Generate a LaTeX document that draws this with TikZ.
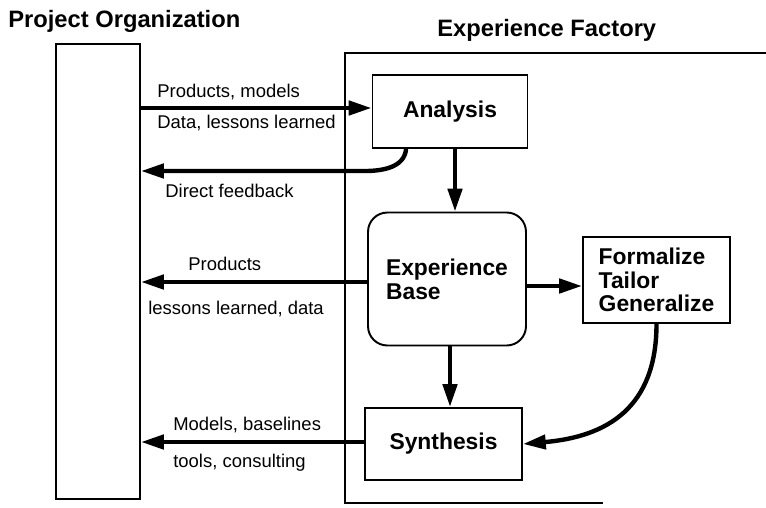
\documentclass[tikz,border=0pt]{standalone}
\usepackage{fontspec}
\setmainfont{Liberation Sans}
\usetikzlibrary{arrows.meta,calc}

\begin{document}
\begin{tikzpicture}[x=0.02cm,y=-0.02cm,
  box/.style={draw, line width=1.1pt, inner sep=0pt, align=left, font=\fontsize{13}{13.5}\selectfont\bfseries},
  flow/.style={line width=2.5pt, -{Triangle[length=13pt,width=8pt]}},
  lbl/.style={anchor=base west, inner sep=0pt, font=\fontsize{10.5}{12}\selectfont},
  ttl/.style={anchor=base west, inner sep=0pt, font=\fontsize{13.5}{15}\selectfont\bfseries}]
\useasboundingbox (0,0) rectangle (766,507);
\node[ttl] (tpo) at (8,27){Project Organization};
\node[ttl] (tef) at (437,36){Experience Factory};
\node[draw, line width=1.1pt, minimum width=1.68cm, minimum height=9.1cm] (po) at (98,271.5){};
\draw[line width=0.8pt] (766,53) -- (345,53) -- (345,503) -- (603,503);
\node[box, minimum width=3.1cm, minimum height=1.46cm] (ana) at (450,111.5){Analysis};
\node[box, rounded corners=11pt, minimum width=3.16cm, minimum height=2.66cm] (eb) at (447,279){Experience\\Base};
\node[box, minimum width=2.94cm, minimum height=1.72cm] (fmt) at (656.5,280){Formalize\\Tailor\\Generalize};
\node[box, minimum width=3.14cm, minimum height=1.44cm] (syn) at (443.5,444){Synthesis};
\coordinate (fbturn) at (365,171);
\draw[flow](po.east |- 0,108) -- (ana.west |- 0,108);
\draw[flow]($(ana.south west)!0.22!(ana.south east)$) to[out=-95,in=0] (fbturn) -- (po.east |- fbturn);
\draw[flow](ana.south -| 455,0) -- (eb.north -| 455,0);
\draw[flow](eb.west |- 0,282) -- (po.east |- 0,282);
\draw[flow](eb.east |- 0,286) -- (fmt.west |- 0,286);
\draw[flow](eb.south -| 450,0) -- (syn.north -| 450,0);
\draw[flow](fmt.south) to[out=-90,in=5,looseness=1.2] (syn.east);
\draw[flow](syn.west |- 0,442) -- (po.east |- 0,442);
\node[lbl] (lpm) at (157,97){Products, models};
\node[lbl] (ldl) at (157,128){Data, lessons learned};
\node[lbl] (ldf) at (165,197){Direct feedback};
\node[lbl] (lpr) at (188,270){Products};
\node[lbl] (lld) at (148,314){lessons learned, data};
\node[lbl] (lmb) at (173,430){Models, baselines};
\node[lbl] (ltc) at (173,467){tools, consulting};

\end{tikzpicture}
\end{document}
